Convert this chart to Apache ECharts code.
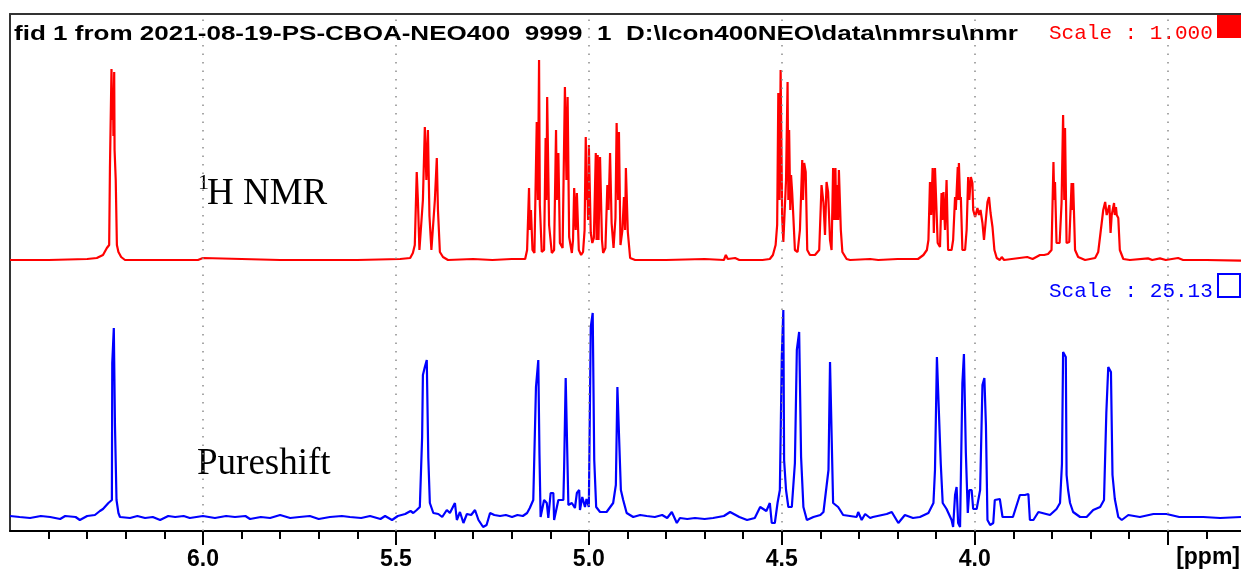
<!DOCTYPE html>
<html>
<head>
<meta charset="utf-8">
<script src="https://cdn.jsdelivr.net/npm/echarts@6/dist/echarts.min.js"></script>
<style>
html,body{margin:0;padding:0;background:#fff;}
#chart{width:1241px;height:571px;}
</style>
</head>
<body>
<div id="chart"></div>
<script>
// ---- data (ppm, intensity) ----
const protonSpectrum = [
[6.500,0],[6.400,0],[6.300,0.5],[6.275,1],[6.259,2.5],[6.249,6],[6.243,7.5],[6.241,46],[6.237,95.5],[6.235,70],[6.233,85],[6.232,62],[6.230,94],[6.229,55],[6.226,40],[6.223,7.5],[6.219,4],[6.212,1.5],[6.202,0],[6.100,0],[6.013,0],[6.008,1],[6.000,1],[5.995,0],[5.800,0],[5.600,0],[5.489,0.5],[5.463,1],[5.456,3.5],[5.451,7.5],[5.446,44],[5.443,30],[5.439,5],[5.435,6],[5.430,30],[5.425,66.5],[5.421,40],[5.417,65],[5.413,22],[5.408,5],[5.403,4],[5.399,30],[5.394,51],[5.391,25],[5.386,4],[5.378,1.5],[5.365,0],[5.300,0.5],[5.250,0],[5.200,0.5],[5.165,0.5],[5.160,5],[5.155,36],[5.153,15],[5.150,25],[5.146,5],[5.141,3.5],[5.135,69],[5.132,30],[5.129,100],[5.127,27.5],[5.122,4],[5.116,5],[5.112,61],[5.110,30],[5.108,81.5],[5.103,17.5],[5.096,3.5],[5.090,5],[5.085,65],[5.083,30],[5.079,53.5],[5.075,8.5],[5.068,6],[5.062,86.5],[5.058,40],[5.055,81.5],[5.051,11.5],[5.044,3.5],[5.041,10],[5.038,36],[5.034,15],[5.031,33.5],[5.026,5],[5.020,2.5],[5.015,4],[5.011,15],[5.008,61.5],[5.006,30],[5.004,41.5],[5.002,20],[5.000,57.5],[4.995,13.5],[4.991,8.5],[4.987,11],[4.982,53.5],[4.980,10],[4.977,52.5],[4.975,10],[4.971,51.5],[4.966,10],[4.963,3.5],[4.957,6],[4.952,37.5],[4.949,25],[4.945,53.5],[4.941,18.5],[4.936,6],[4.931,21],[4.928,68.5],[4.924,30],[4.922,64],[4.918,7.5],[4.913,15],[4.909,31.5],[4.906,15],[4.904,46],[4.899,14],[4.893,1],[4.880,0],[4.800,0],[4.700,0.5],[4.650,0],[4.645,2.5],[4.640,0.5],[4.621,1],[4.610,0],[4.550,0],[4.531,0.5],[4.523,2.5],[4.516,7.5],[4.512,17.5],[4.509,83.5],[4.506,30],[4.503,95],[4.499,21.5],[4.496,9],[4.492,10],[4.489,40],[4.485,89],[4.483,30],[4.481,65],[4.478,25],[4.476,42.5],[4.473,33.5],[4.470,21.5],[4.466,5],[4.459,4],[4.453,15],[4.447,50],[4.445,30],[4.442,48.5],[4.438,44],[4.434,5],[4.427,2.5],[4.414,2.5],[4.403,5],[4.397,37.5],[4.392,28.5],[4.388,12.5],[4.384,39],[4.380,34],[4.375,10],[4.371,5],[4.367,46],[4.364,20],[4.361,46],[4.359,20],[4.357,37.5],[4.354,20],[4.352,45],[4.347,15],[4.343,4],[4.332,0.5],[4.323,0],[4.271,0.5],[4.250,0],[4.200,0.5],[4.147,0.5],[4.133,2.5],[4.124,5],[4.120,10],[4.116,39],[4.113,22.5],[4.109,46],[4.106,13.5],[4.103,46],[4.099,45],[4.096,8.5],[4.090,6.5],[4.086,33.5],[4.084,20],[4.081,34],[4.077,15],[4.073,40],[4.069,5],[4.060,5],[4.056,10],[4.051,31.5],[4.049,25],[4.044,46.5],[4.043,30],[4.041,48.5],[4.038,30],[4.036,31.5],[4.032,5],[4.025,5],[4.021,15],[4.017,41.5],[4.014,30],[4.010,41.5],[4.006,38.5],[4.004,25],[3.999,21.5],[3.993,26],[3.989,22.5],[3.985,25],[3.980,18.5],[3.976,10],[3.972,18.5],[3.967,29],[3.963,31.5],[3.959,23.5],[3.954,16.5],[3.949,5],[3.943,1],[3.935,0],[3.930,1.5],[3.924,0],[3.864,1.5],[3.850,0.5],[3.831,2.5],[3.820,2.5],[3.810,3],[3.801,5],[3.796,49],[3.794,30],[3.792,39],[3.788,8.5],[3.780,8.5],[3.775,28.5],[3.771,72.5],[3.768,30],[3.766,66],[3.762,8.5],[3.755,9],[3.749,38.5],[3.747,25],[3.745,38.5],[3.740,5],[3.732,1.5],[3.714,0],[3.688,1],[3.680,4],[3.671,18.5],[3.667,25],[3.662,29],[3.658,22.5],[3.654,21.5],[3.651,27.5],[3.648,13.5],[3.645,22.5],[3.639,28.5],[3.637,22.5],[3.634,26.5],[3.632,22.5],[3.628,21],[3.624,5],[3.615,0.5],[3.598,0],[3.551,0.8],[3.540,0],[3.520,0.8],[3.505,0],[3.473,1],[3.460,0],[3.400,0],[3.310,-0.3]
];

const pureshiftSpectrum = [
[6.500,0.5],[6.475,0],[6.448,-0.5],[6.420,0.5],[6.396,0],[6.370,-1],[6.357,0.5],[6.330,0],[6.319,-1.5],[6.300,0.5],[6.280,1],[6.267,3],[6.259,4],[6.245,7],[6.236,8.5],[6.235,77],[6.231,94.5],[6.228,46],[6.224,8.5],[6.219,2],[6.215,0],[6.189,-0.5],[6.170,0.5],[6.150,-0.5],[6.130,0],[6.111,-1.5],[6.090,0.5],[6.072,0],[6.050,0.5],[6.034,-0.5],[6.000,0.5],[5.969,-0.5],[5.940,0.5],[5.917,0],[5.890,0.5],[5.878,-1],[5.850,0],[5.826,-0.5],[5.800,1],[5.774,-0.5],[5.750,0],[5.723,0.5],[5.700,-1],[5.671,0],[5.640,0.5],[5.619,0],[5.590,-0.5],[5.567,0.5],[5.540,-1],[5.528,0.5],[5.510,-1.5],[5.495,0.5],[5.476,1.5],[5.462,3],[5.455,2],[5.446,3.5],[5.438,5],[5.432,40],[5.430,71],[5.425,75],[5.420,78.5],[5.416,29.5],[5.412,7],[5.403,2],[5.390,1.5],[5.380,0],[5.368,3.5],[5.360,2],[5.351,5.5],[5.347,7],[5.342,-1.5],[5.334,2.5],[5.325,-3],[5.316,1.5],[5.305,1],[5.295,3.5],[5.286,-1.5],[5.282,-1.5],[5.274,-5],[5.265,-4],[5.256,2],[5.245,1],[5.230,0.5],[5.215,1],[5.199,0],[5.185,1],[5.171,0.5],[5.160,2],[5.153,4.5],[5.144,8.5],[5.137,65],[5.131,78.5],[5.128,32],[5.125,0],[5.116,8.5],[5.109,7],[5.105,-0.5],[5.099,12],[5.092,12],[5.090,-1.5],[5.085,-2.5],[5.079,8.5],[5.066,8.5],[5.064,25],[5.060,69.5],[5.056,68.5],[5.053,6],[5.044,7],[5.036,4.5],[5.031,12],[5.025,13.5],[5.023,3.5],[5.017,10],[5.010,5],[5.006,9],[5.000,5],[4.995,95],[4.990,102],[4.986,28.5],[4.981,5],[4.971,2.5],[4.954,2.5],[4.937,7],[4.930,16],[4.926,65],[4.921,66],[4.917,13.5],[4.911,8.5],[4.902,2],[4.885,0],[4.867,1],[4.850,0.5],[4.829,0],[4.810,1],[4.797,-0.5],[4.785,2.5],[4.772,-3],[4.764,-0.5],[4.745,-1],[4.725,-0.5],[4.700,-1],[4.678,-0.5],[4.650,0.5],[4.634,2.5],[4.610,0],[4.590,-1.5],[4.570,-0.5],[4.556,5],[4.540,3],[4.531,7],[4.526,-3],[4.518,-3],[4.511,7],[4.505,13.5],[4.500,80],[4.496,103.5],[4.494,28.5],[4.489,13.5],[4.483,5],[4.474,5],[4.466,27],[4.461,83.5],[4.455,92.5],[4.450,30],[4.444,5],[4.435,-1.5],[4.418,0],[4.400,1],[4.392,2.5],[4.379,23.5],[4.375,77.5],[4.371,77],[4.367,7],[4.354,5],[4.349,3.5],[4.341,1],[4.306,0],[4.302,2.5],[4.293,-1.5],[4.284,1.5],[4.271,-0.5],[4.264,0],[4.228,1.5],[4.215,2.5],[4.198,-3],[4.181,1],[4.160,-0.5],[4.142,0],[4.120,2],[4.107,7],[4.103,23.5],[4.098,80],[4.093,80],[4.088,26.5],[4.083,7],[4.073,4],[4.060,-1.5],[4.056,-5],[4.051,11],[4.047,15],[4.043,-3],[4.038,-5],[4.032,67],[4.028,81.5],[4.023,32],[4.018,2],[4.014,13.5],[4.008,13.5],[4.004,4],[3.995,4],[3.986,13.5],[3.980,66],[3.975,69.5],[3.971,46],[3.967,-1.5],[3.960,-4],[3.952,-3],[3.948,8.5],[3.935,9],[3.928,0],[3.901,0],[3.883,11],[3.870,11],[3.861,11.5],[3.857,-1.5],[3.848,-1.5],[3.835,2.5],[3.805,1],[3.788,4],[3.779,7],[3.774,26.5],[3.771,82.5],[3.767,83],[3.764,80],[3.762,21],[3.758,13.5],[3.753,7],[3.745,2.5],[3.727,0],[3.710,0],[3.693,3.5],[3.675,5],[3.665,8.5],[3.659,52],[3.654,75],[3.647,72.5],[3.643,21],[3.637,9],[3.628,0],[3.619,-1.5],[3.602,1],[3.572,0],[3.537,1.5],[3.503,1.5],[3.470,0],[3.451,0],[3.408,0],[3.364,-0.5],[3.310,0]
];

const majorTicks = [3.5, 4.0, 4.5, 5.0, 5.5, 6.0];
const minorTicks = [3.4, 3.6, 3.7, 3.8, 3.9, 4.1, 4.2, 4.3, 4.4, 4.6, 4.7, 4.8, 4.9, 5.1, 5.2, 5.3, 5.4, 5.6, 5.7, 5.8, 5.9, 6.1, 6.2, 6.3, 6.4];
const tickLabels = [4.0, 4.5, 5.0, 5.5, 6.0];
const gridLines = [3.5, 4.0, 4.5, 5.0, 5.5, 6.0];

const headerText = 'fid 1 from 2021-08-19-PS-CBOA-NEO400  9999  1  D:\\Icon400NEO\\data\\nmrsu\\nmr';
const scaleTop = 'Scale : 1.000';
const scaleBottom = 'Scale : 25.13';

// ---- layout helpers ----
const headerFont = 'bold 20px "Liberation Sans"';
const mctx = document.createElement('canvas').getContext('2d');
mctx.font = headerFont;
const headerScale = 1004 / mctx.measureText(headerText).width;

const chart = echarts.init(document.getElementById('chart'), null, {renderer: 'canvas'});
const xBase = {type: 'value', min: 3.31, max: 6.5, inverse: true, gridIndex: 0, splitLine: {show: false}};

chart.setOption({
  animation: false,
  backgroundColor: '#ffffff',
  grid: {left: 10, right: 0, top: 14, bottom: 40, containLabel: false},
  xAxis: [
    Object.assign({}, xBase, {
      position: 'bottom',
      axisLine: {show: true, onZero: false, lineStyle: {color: '#000', width: 2}},
      axisTick: {show: true, customValues: majorTicks, length: 14, lineStyle: {color: '#000', width: 2}},
      axisLabel: {show: true, customValues: tickLabels, margin: 17, color: '#000',
        fontFamily: 'Liberation Sans', fontWeight: 'bold', fontSize: 23,
        formatter: v => v.toFixed(1)}
    }),
    Object.assign({}, xBase, {
      position: 'bottom',
      axisLine: {show: false, onZero: false},
      axisTick: {show: true, customValues: minorTicks, length: 8, lineStyle: {color: '#000', width: 2}},
      axisLabel: {show: false}
    }),
    Object.assign({}, xBase, {
      position: 'top',
      axisLine: {show: true, onZero: false, lineStyle: {color: '#333', width: 2}},
      axisTick: {show: false},
      axisLabel: {show: false}
    })
  ],
  yAxis: [
    {type: 'value', min: -135.5, max: 123, gridIndex: 0,
      axisLine: {show: true, onZero: false, lineStyle: {color: '#333', width: 2}},
      axisTick: {show: false}, axisLabel: {show: false}, splitLine: {show: false}},
    {type: 'value', min: -7, max: 251.5, gridIndex: 0, position: 'left',
      axisLine: {show: false}, axisTick: {show: false}, axisLabel: {show: false}, splitLine: {show: false}}
  ],
  series: [
    {
      name: '1H NMR', type: 'line', xAxisIndex: 0, yAxisIndex: 0,
      data: protonSpectrum, showSymbol: false, silent: true, z: 3,
      lineStyle: {color: '#ff0000', width: 2.2},
      markLine: {
        silent: true, symbol: 'none', label: {show: false},
        lineStyle: {color: '#8c8c8c', type: [1.5, 7], width: 1.5},
        data: gridLines.map(v => ({xAxis: v}))
      }
    },
    {
      name: 'Pureshift', type: 'line', xAxisIndex: 0, yAxisIndex: 1,
      data: pureshiftSpectrum, showSymbol: false, silent: true, z: 3,
      lineStyle: {color: '#0000ff', width: 2.2}
    }
  ],
  graphic: [
    {type: 'text', x: 14, y: 34, scaleX: headerScale, silent: true,
      style: {text: headerText, font: headerFont, fill: '#000', verticalAlign: 'middle', textAlign: 'left'}},
    {type: 'text', x: 1049, y: 33, silent: true,
      style: {text: scaleTop, font: '21px "Liberation Mono"', fill: '#ff0000', verticalAlign: 'middle'}},
    {type: 'rect', shape: {x: 1217, y: 14, width: 24, height: 24}, silent: true, style: {fill: '#ff0000'}},
    {type: 'text', x: 1049, y: 291, silent: true,
      style: {text: scaleBottom, font: '21px "Liberation Mono"', fill: '#0000ff', verticalAlign: 'middle'}},
    {type: 'rect', shape: {x: 1218, y: 274, width: 22, height: 23}, silent: true,
      style: {fill: 'none', stroke: '#0000ff', lineWidth: 2}},
    {type: 'text', x: 198, y: 183.5, silent: true,
      style: {text: '1', font: '22px "Liberation Serif"', fill: '#000', verticalAlign: 'middle'}},
    {type: 'text', x: 207, y: 194.5, silent: true,
      style: {text: 'H NMR', font: '37px "Liberation Serif"', fill: '#000', verticalAlign: 'middle'}},
    {type: 'text', x: 197, y: 464.5, silent: true,
      style: {text: 'Pureshift', font: '37px "Liberation Serif"', fill: '#000', verticalAlign: 'middle'}},
    {type: 'text', x: 1240, y: 558, silent: true,
      style: {text: '[ppm]', font: 'bold 23px "Liberation Sans"', fill: '#000', verticalAlign: 'middle', textAlign: 'right'}}
  ]
});
</script>
</body>
</html>
